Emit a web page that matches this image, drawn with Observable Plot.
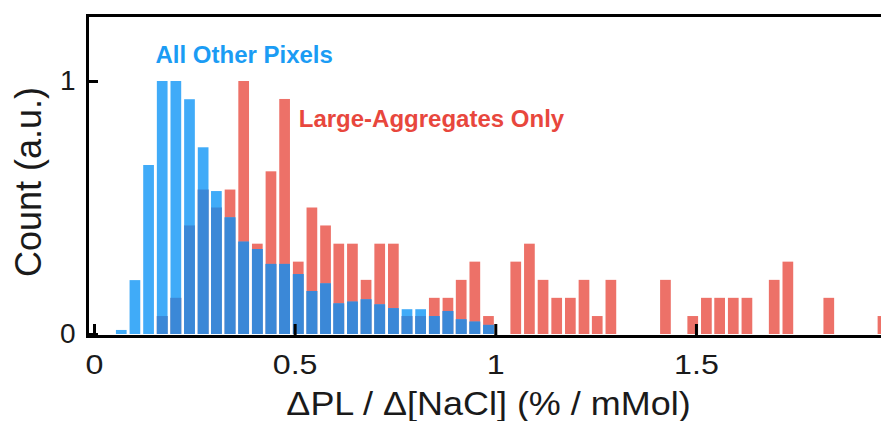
<!DOCTYPE html>
<html><head><meta charset="utf-8">
<script src="https://cdn.jsdelivr.net/npm/d3@7"></script>
<script src="https://cdn.jsdelivr.net/npm/@observablehq/plot@0.6"></script>
<style>body{margin:0;background:#fff} svg{display:block}</style>
</head><body><div id="chart"></div>
<script>
// Histogram bin centers (ΔPL / Δ[NaCl], % / mMol)
const binCenters = [0.068,0.102,0.136,0.170,0.204,0.238,0.272,0.305,0.339,0.373,0.407,0.441,0.475,0.509,0.543,0.577,0.610,0.644,0.678,0.712,0.746,0.780,0.814,0.848,0.882,0.915,0.949,0.983,1.017,1.051,1.085,1.119,1.153,1.187,1.221,1.254,1.288,1.322,1.356,1.390,1.424,1.458,1.492,1.526,1.559,1.593,1.627,1.661,1.695,1.729,1.763,1.797,1.831,1.864,1.898,1.932,1.966];
const binWidth = 0.0339;
// Normalized counts, "All Other Pixels"
const otherPixels = [0.016,0.213,0.668,1,1,0.928,0.738,0.565,0.461,0.365,0.336,0.277,0.277,0.237,0.170,0.200,0.121,0.128,0.137,0.117,0.102,0.098,0.098,0.071,0.091,0.058,0.049,0.036,0,0,0,0,0,0,0,0,0,0,0,0,0,0,0,0,0,0,0,0,0,0,0,0,0,0,0,0,0];
// Normalized counts, "Large-Aggregates Only"
const largeAggregates = [0,0,0,0.071,0.143,0.429,0.571,0.5,0.571,1,0.357,0.643,0.929,0.286,0.5,0.429,0.357,0.357,0.214,0.357,0.357,0.071,0.071,0.143,0.143,0.214,0.286,0.071,0,0.286,0.357,0.214,0.143,0.143,0.214,0.071,0.214,0,0,0,0.214,0,0.071,0.143,0.143,0.143,0.143,0,0.214,0.286,0,0,0.143,0,0,0,0.071];

const xTicks = [0, 0.5, 1, 1.5];
const xTickLabels = ["0", "0.5", "1", "1.5"];
const yTicks = [0, 1];
const yTickLabels = ["0", "1"];
const xLabel = "ΔPL / Δ[NaCl] (% / mMol)";
const yLabel = "Count (a.u.)";
const seriesNames = ["All Other Pixels", "Large-Aggregates Only"];
const seriesLabelX = [0.152, 0.509];
const seriesLabelY = [1.075, 0.819];

const BLUE = "#40abf8", DARK = "#3b88d7", RED = "#ed7168";
const TEXT_BLUE = "#1b9cf4", TEXT_RED = "#e8473d", INK = "#1a1a1a";

const rows = binCenters.map((c, i) => ({
  x1: c - binWidth / 2, x2: c + binWidth / 2,
  other: otherPixels[i], large: largeAggregates[i],
  both: Math.min(otherPixels[i], largeAggregates[i])
}));
const labels = seriesNames.map((t, i) => ({t, x: seriesLabelX[i], y: seriesLabelY[i], c: [TEXT_BLUE, TEXT_RED][i]}));

const barOpts = {x1: "x1", x2: "x2", y1: 0, insetLeft: 1.45, insetRight: 1.45, clip: true};

const chart = Plot.plot({
  width: 881, height: 421,
  marginLeft: 87, marginRight: 0, marginTop: 15, marginBottom: 85,
  style: {fontFamily: "'Liberation Sans', Arial, sans-serif", background: "white"},
  x: {domain: [-0.0174, 1.9611], axis: null},
  y: {domain: [-0.0079, 1.2609], axis: null},
  marks: [
    Plot.rect(rows.filter(d => d.large > 0), {...barOpts, y2: "large", fill: RED}),
    Plot.rect(rows.filter(d => d.other > 0), {...barOpts, y2: "other", fill: BLUE}),
    Plot.rect(rows.filter(d => d.both > 0), {...barOpts, y2: "both", fill: DARK}),
    Plot.tickX(xTicks, {x: d => d, insetTop: 309, stroke: "black", strokeWidth: 3}),
    Plot.tickY(yTicks, {y: d => d, insetRight: 783, stroke: "black", strokeWidth: 3}),
    Plot.frame({anchor: "left", stroke: "black", strokeWidth: 3}),
    Plot.frame({anchor: "top", stroke: "black", strokeWidth: 3}),
    Plot.frame({anchor: "bottom", stroke: "black", strokeWidth: 3}),
    Plot.axisX(xTicks, {tickSize: 0, tickPadding: 18, fontSize: 28, fill: INK, label: null,
      tickFormat: d => xTickLabels[xTicks.indexOf(d)]}),
    Plot.axisY(yTicks, {tickSize: 0, tickPadding: 12, fontSize: 28, fill: INK, label: null,
      tickFormat: d => yTickLabels[yTicks.indexOf(d)]}),
    Plot.text([xLabel], {text: d => d, frameAnchor: "bottom", dy: 78, dx: 4, lineAnchor: "bottom", fontSize: 33, fill: INK}),
    Plot.text([yLabel], {text: d => d, frameAnchor: "left", textAnchor: "middle", rotate: -90, dx: -58, dy: 6, lineAnchor: "middle", fontSize: 36, fill: INK}),
    Plot.text(labels, {x: "x", y: "y", text: "t", fill: "c", textAnchor: "start", lineAnchor: "bottom", fontSize: 24, fontWeight: "bold"})
  ]
});
document.getElementById("chart").appendChild(chart);

// Slightly widen the axis texts horizontally to match the reference lettering
function widen(el, s) {
  const t = el.getAttribute("transform");
  if (t) el.setAttribute("transform", t + ` scale(${s},1)`);
  else {
    const x = +(el.getAttribute("x") || 0);
    el.setAttribute("transform", `translate(${x},0) scale(${s},1) translate(${-x},0)`);
  }
}
chart.querySelectorAll('g[aria-label="x-axis tick label"] text').forEach(el => widen(el, 1.15));
chart.querySelectorAll("text").forEach(el => { if (el.textContent === xLabel) widen(el, 1.09); });
</script>
</body></html>
